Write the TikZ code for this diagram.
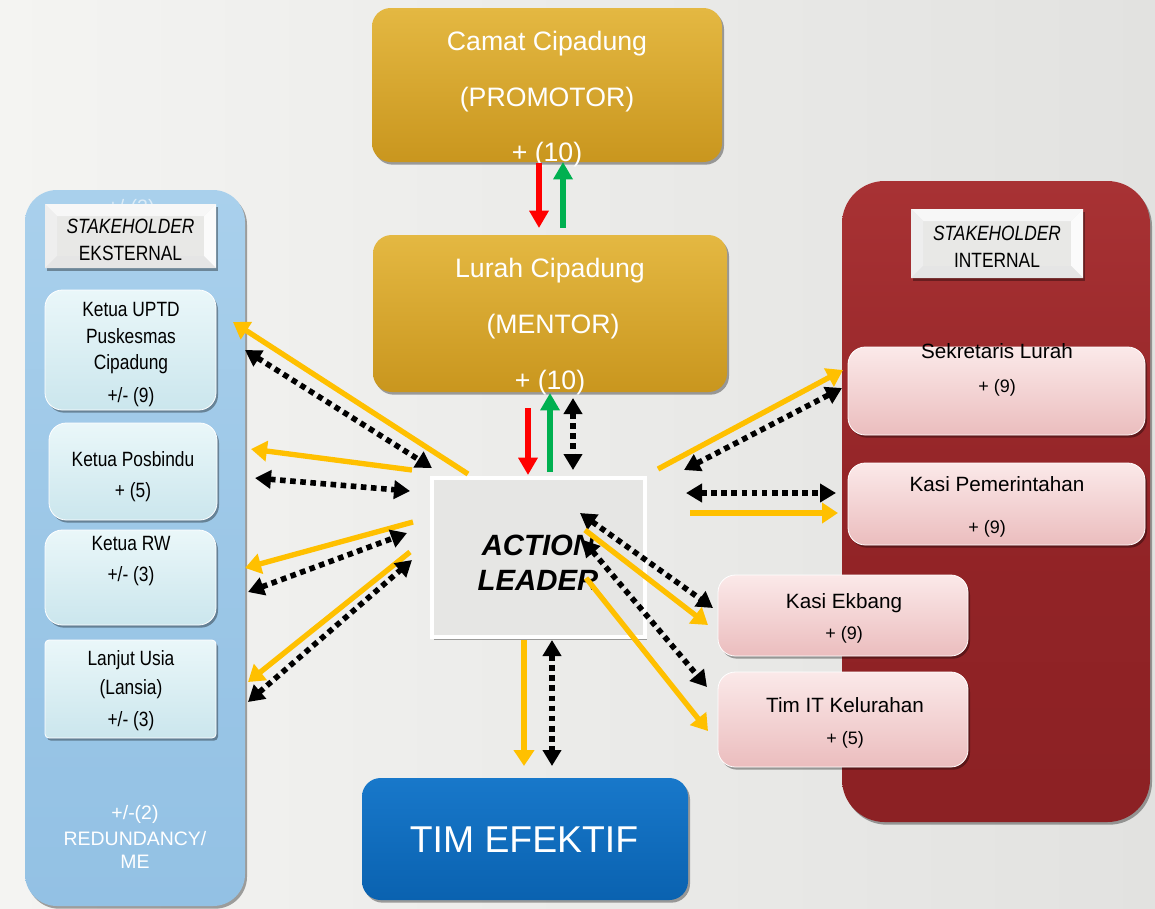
\documentclass[tikz,border=0pt]{standalone}
\usepackage{fontspec}
\setmainfont{Liberation Sans}
\newfontfamily\narrowf[FakeStretch=0.84]{Liberation Sans}
\usetikzlibrary{arrows.meta,calc,shadows}
\definecolor{bgL}{HTML}{F4F4F2}
\definecolor{bgR}{HTML}{E2E2E0}
\definecolor{blueP}{HTML}{9CC7E7}
\definecolor{blueT}{HTML}{A9D0EC}
\definecolor{blueB}{HTML}{93C1E4}
\definecolor{redP}{HTML}{932427}
\definecolor{redT}{HTML}{A83234}
\definecolor{redB}{HTML}{8C2124}
\definecolor{goldT}{HTML}{E4B842}
\definecolor{goldB}{HTML}{C9961E}
\definecolor{cyanT}{HTML}{EAF7F9}
\definecolor{cyanB}{HTML}{CBE6ED}
\definecolor{pinkT}{HTML}{FBE9E9}
\definecolor{pinkB}{HTML}{EBBDBE}
\definecolor{stkC}{HTML}{E8E8E6}
\definecolor{alC}{HTML}{E6E6E4}
\definecolor{timT}{HTML}{1878CA}
\definecolor{timB}{HTML}{0A62B0}
\definecolor{yel}{HTML}{FFC000}
\definecolor{arRed}{HTML}{FF0000}
\definecolor{arGreen}{HTML}{00B050}
\newcommand{\bevel}[2]{%
  \fill[white!94!gray] (#1.north west) -- (#1.north east) -- ($(#1.north east)+(-#2,#2)$) -- ($(#1.north west)+(#2,#2)$) -- cycle;
  \fill[gray!13] (#1.north west) -- ($(#1.north west)+(#2,#2)$) -- ($(#1.south west)+(#2,-#2)$) -- (#1.south west) -- cycle;
  \fill[white!97!gray] (#1.north east) -- ($(#1.north east)+(-#2,#2)$) -- ($(#1.south east)+(-#2,-#2)$) -- (#1.south east) -- cycle;
  \fill[gray!20] (#1.south west) -- ($(#1.south west)+(#2,-#2)$) -- ($(#1.south east)+(-#2,-#2)$) -- (#1.south east) -- cycle;
}
\tikzset{
  sz/.style 2 args={minimum width=#1*0.75pt, minimum height=#2*0.75pt, inner sep=0pt, outer sep=0pt},
  shad/.style={drop shadow={shadow xshift=1.5pt, shadow yshift=-2pt, opacity=0.35, fill=black}},
  panelB/.style={rounded corners=24pt, top color=blueT, bottom color=blueB, middle color=blueP, shad},
  panelR/.style={rounded corners=32pt, top color=redT, bottom color=redB, middle color=redP, shad},
  goldbox/.style={rounded corners=14pt, top color=goldT, bottom color=goldB, shad},
  cyanbox/.style={rounded corners=13pt, top color=cyanT, bottom color=cyanB, draw=white, line width=0.6pt, shad},
  pinkbox/.style={rounded corners=13pt, top color=pinkT, bottom color=pinkB, draw=white, line width=0.6pt, shad},
  stkbox/.style={fill=stkC, shad},
  albox/.style={fill=alC, draw=white, line width=2.5pt, shad},
  timbox/.style={rounded corners=14pt, top color=timT, bottom color=timB, shad},
  txt/.style={inner sep=0pt, yshift=-1.5pt},
  nar/.style={txt, font=\narrowf\fontsize{15.5}{18}\selectfont},
  rtxt/.style={txt, font=\fontsize{15.5}{18}\selectfont},
  rnum/.style={txt, font=\fontsize{13.5}{16}\selectfont},
  gtxt/.style={txt, font=\fontsize{20}{24}\selectfont, text=white},
  wtxt/.style={txt, font=\fontsize{14.6}{17}\selectfont, text=white},
  altxt/.style={txt, font=\fontsize{22}{26}\selectfont\bfseries\itshape},
  yelarr/.style={draw=yel, line width=4pt, -{Triangle[length=12pt,width=15pt]}},
  dotarr/.style={draw=black, line width=4.2pt, dash pattern=on 4.2pt off 3.4pt,
     {Triangle[length=12pt,width=13.5pt]}-{Triangle[length=12pt,width=13.5pt]}},
  redarr/.style={draw=arRed, line width=4.5pt, -{Triangle[length=13pt,width=14pt]}},
  grnarr/.style={draw=arGreen, line width=4.5pt, -{Triangle[length=13pt,width=14pt]}},
}
\begin{document}
\begin{tikzpicture}[x=0.75pt,y=-0.75pt]
\useasboundingbox (0,0) rectangle (1155,908);
\shade[left color=bgL, right color=bgR] (0,0) rectangle (1155,908);

% panels
\node[panelB, sz={220}{716}] (ext) at (135,548) {};
\node[panelR, sz={308}{641}] (int) at (996,501.5) {};

% faded text behind the external stakeholder label
\node[wtxt, opacity=0.6] (fade) at (131,206) {+/-(2)};

% stakeholder labels
\node[stkbox, sz={171}{64}] (sx) at (130.5,236) {};
\bevel{sx}{12}
\node[stkbox, sz={172}{69}] (si) at (997,243.5) {};
\bevel{si}{12}

% external members
\node[cyanbox, sz={171}{120}] (e1) at (130.5,350) {};
\node[cyanbox, sz={168}{97}] (e2) at (133,471.5) {};
\node[cyanbox, sz={171}{95}] (e3) at (130.5,577.5) {};
\node[cyanbox, rounded corners=3pt, sz={171}{98}] (e4) at (130.5,689) {};

% internal members
\node[pinkbox, sz={297}{88}] (i1) at (996.5,391) {};
\node[pinkbox, sz={297}{82}] (i2) at (996.5,504) {};
\node[pinkbox, sz={250}{81}] (i3) at (843,615.5) {};
\node[pinkbox, sz={250}{95}] (i4) at (843,719.5) {};

% central boxes
\node[goldbox, sz={350}{154}] (camat) at (547,85) {};
\node[goldbox, sz={354}{157}] (lurah) at (550,313.5) {};
\node[albox, sz={213}{159}] (al) at (538.5,557.5) {};
\node[timbox, sz={326}{122}] (tim) at (525,839) {};

% texts: left
\node[nar] (sxa) at (130.5,224) {\itshape STAKEHOLDER};
\node[nar] (sxb) at (130.5,251) {EKSTERNAL};
\node[nar] (e1a) at (131,307) {Ketua UPTD};
\node[nar] (e1b) at (131,334) {Puskesmas};
\node[nar] (e1c) at (131,362) {Cipadung};
\node[nar] (e1d) at (131,395) {+/- (9)};
\node[nar] (e2a) at (133,457) {Ketua Posbindu};
\node[nar] (e2b) at (133,490) {+ (5)};
\node[nar] (e3a) at (131,541) {Ketua RW};
\node[nar] (e3b) at (131,574) {+/- (3)};
\node[nar] (e4a) at (131,658) {Lanjut Usia};
\node[nar] (e4b) at (131,687) {(Lansia)};
\node[nar] (e4c) at (131,719) {+/- (3)};
\node[wtxt] (r1) at (135,812) {+/-(2)};
\node[wtxt] (r2) at (135,837) {REDUNDANCY/};
\node[wtxt] (r3) at (135,860) {ME};

% texts: centre
\node[gtxt] (ca) at (547,42) {Camat Cipadung};
\node[gtxt] (cb) at (547,98) {(PROMOTOR)};
\node[gtxt] (cc) at (547,153) {+ (10)};
\node[gtxt] (la) at (550,269) {Lurah Cipadung};
\node[gtxt] (lb) at (553,325) {(MENTOR)};
\node[gtxt] (lc) at (550,381) {+ (10)};
\node[altxt] (ala) at (538,543) {ACTION};
\node[altxt] (alb) at (538,578) {LEADER};
\node[txt, font=\fontsize{28}{32}\selectfont, text=white] (tt) at (524,838) {TIM EFEKTIF};

% texts: right
\node[nar] (sia) at (997,231) {\itshape STAKEHOLDER};
\node[nar] (sib) at (997,258) {INTERNAL};
\node[rtxt] (i1a) at (997,349) {Sekretaris Lurah};
\node[rnum] (i1b) at (997,386) {+ (9)};
\node[rtxt] (i2a) at (997,482) {Kasi Pemerintahan};
\node[rnum] (i2b) at (987,527) {+ (9)};
\node[rtxt] (i3a) at (844,601) {Kasi Ekbang};
\node[rnum] (i3b) at (844,633) {+ (9)};
\node[rtxt] (i4a) at (845,703) {Tim IT Kelurahan};
\node[rnum] (i4b) at (845,738) {+ (5)};

% vertical arrows
\draw[redarr] ($(camat.south)+(-8,1)$) -- ($(lurah.north)+(-11,-7)$);
\draw[grnarr] ($(lurah.north)+(13,-7)$) -- ($(camat.south)+(16,0)$);
\draw[redarr] ($(lurah.south)+(-22,16)$) -- ($(al.north)+(-10.5,-3)$);
\draw[grnarr] ($(al.north)+(11.5,-6)$) -- ($(lurah.south)+(0,1)$);
\draw[dotarr] ($(lurah.south)+(23,6)$) -- ($(al.north)+(34.5,-8)$);
\draw[yelarr] ($(al.south)+(-14.5,3)$) -- ($(tim.north)+(-1,-12)$);
\draw[dotarr] ($(al.south)+(13.5,3)$) -- ($(tim.north)+(27,-12)$);

% left arrows
\draw[yelarr] ($(al.north west)+(36,-4)$) -- ($(e1.east)+(17,-28)$);
\draw[dotarr] ($(e1.east)+(29,0)$) -- ($(al.north west)+(0,-10)$);
\draw[yelarr] ($(al.north west)+(-20,-8)$) -- ($(e2.east)+(34,-22.5)$);
\draw[dotarr] ($(e2.east)+(38,6.5)$) -- ($(al.north west)+(-22,13)$);
\draw[yelarr] ($(al.north west)+(-19,44)$) -- ($(e3.east)+(29,-9.5)$);
\draw[dotarr] ($(e3.east)+(32,14.5)$) -- ($(al.north west)+(-25,55)$);
\draw[yelarr] ($(al.north west)+(-22,74)$) -- ($(e4.east)+(32,-7)$);
\draw[dotarr] ($(e4.east)+(32,13)$) -- ($(al.north west)+(-20,82)$);

% right arrows
\draw[yelarr] ($(al.north east)+(13,-9)$) -- ($(i1.west)+(-5,-21)$);
\draw[dotarr] ($(al.north east)+(39,-8)$) -- ($(i1.west)+(-6,-3)$);
\draw[dotarr] ($(al.north east)+(41,15)$) -- ($(i2.west)+(-12,-11)$);
\draw[yelarr] ($(al.north east)+(45,35)$) -- ($(i2.west)+(-10,9)$);
\draw[dotarr] ($(al.north)+(41.5,35)$) -- ($(i3.west)+(-5,-7.5)$);
\draw[yelarr] ($(al.north)+(46.5,52)$) -- ($(i3.west)+(-10,9.5)$);
\draw[dotarr] ($(al.north)+(44.5,62)$) -- ($(i4.west)+(-11,-32.5)$);
\draw[yelarr] ($(al.north)+(47.5,100)$) -- ($(i4.west)+(-10,11.5)$);
\end{tikzpicture}
\end{document}
